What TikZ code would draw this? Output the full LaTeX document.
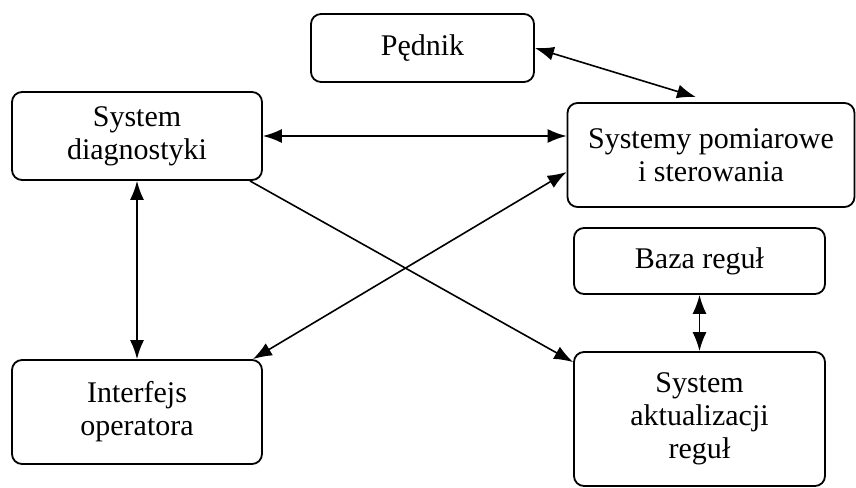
\documentclass[tikz,border=0pt]{standalone}
\usepackage{fontspec}
\setmainfont{Liberation Serif}
\usetikzlibrary{arrows.meta, positioning}

\begin{document}
\begin{tikzpicture}[
        x=0.5pt, y=-0.5pt,
        every node/.style={rectangle, rounded corners=5pt, draw, line width=0.9pt,
            align=center, font=\fontsize{15}{16.5}\selectfont, inner sep=0pt},
        link/.style={line width=0.8pt, {Latex[length=9.5pt,width=7pt]}-{Latex[length=9.5pt,width=7pt]}},
        onelink/.style={line width=0.8pt, -{Latex[length=9.5pt,width=7pt]}}
    ]
        \useasboundingbox (0,0) rectangle (856,487);

        % Bloki
        \node [minimum width=111.5pt, minimum height=34pt] (ped) at (422.5,48) {Pędnik};
        \node [minimum width=125pt, minimum height=44pt] (diag) at (137,136) {System\\diagnostyki};
        \node [minimum width=143.5pt, minimum height=52pt] (sys) at (711,155) {Systemy pomiarowe\\i sterowania};
        \node [minimum width=125.5pt, minimum height=33pt] (baza) at (699.5,261) {Baza reguł};
        \node [minimum width=125.5pt, minimum height=67pt] (akt) at (699.5,419) {System\\aktualizacji\\reguł};
        \node [minimum width=125pt, minimum height=52pt] (inter) at (137,412) {Interfejs\\operatora};

        % Połączenia
        \draw[link] (ped.east) -- ([xshift=-7.5pt, yshift=2.5pt]sys.north);
        \draw[link] (diag.east) -- (diag.east -| sys.west);
        \draw[link] (diag.south) -- (inter.north);
        \draw[link] ([xshift=-5pt]inter.north east) -- ([yshift=-8.5pt]sys.west);
        \draw[onelink] ([xshift=-6.5pt]diag.south east) -- ([yshift=-5.5pt]akt.north west);
        \draw[link] (baza.south) -- (akt.north);
    \end{tikzpicture}
\end{document}
